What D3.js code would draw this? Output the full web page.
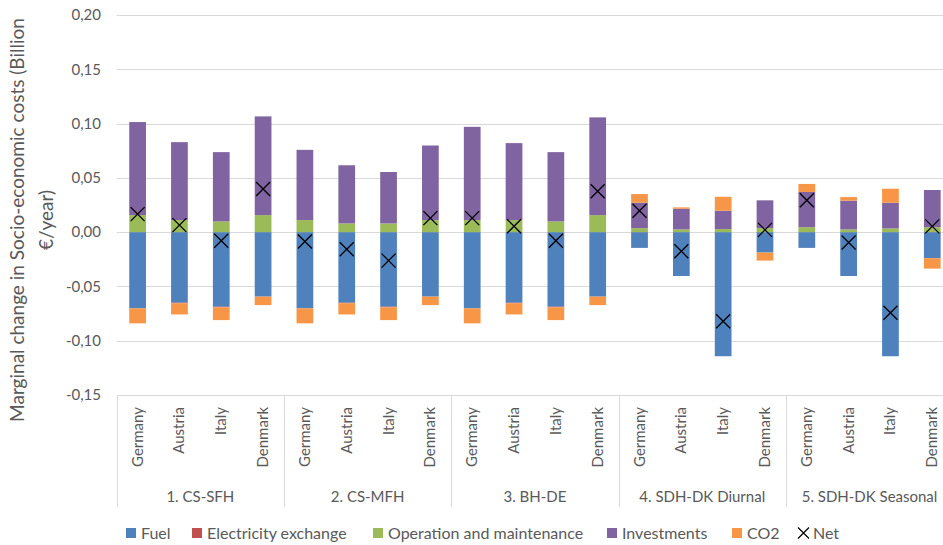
<!DOCTYPE html>
<html>
<head>
<meta charset="utf-8">
<script src="https://cdn.jsdelivr.net/npm/d3@7/dist/d3.min.js"></script>
<style>
  html, body { margin: 0; padding: 0; background: #fff; }
  svg { display: block; }
  text { font-family: Lato, "Open Sans", sans-serif; fill: #595959; }
</style>
</head>
<body>
<svg id="chart" width="943" height="545"></svg>
<script>
// ---------------- DATA ----------------
const groups = ["1. CS-SFH", "2. CS-MFH", "3. BH-DE", "4. SDH-DK Diurnal", "5. SDH-DK Seasonal"];
const countries = ["Germany", "Austria", "Italy", "Denmark"];
const seriesNames = ["Fuel", "Electricity exchange", "Operation and maintenance", "Investments", "CO2"];
const seriesColors = ["#4F81BD", "#C0504D", "#9BBB59", "#8064A2", "#F79646"];

// values in Billion €/year, 20 bars (5 groups x 4 countries)
const fuel = [
  -0.0702, -0.0650, -0.0687, -0.0594,
  -0.0702, -0.0650, -0.0687, -0.0594,
  -0.0702, -0.0650, -0.0687, -0.0594,
  -0.0145, -0.0404, -0.1143, -0.0188,
  -0.0145, -0.0404, -0.1143, -0.0240
];
const electricity = [
   0.0000, -0.0005, -0.0005,  0.0000,
   0.0000, -0.0005, -0.0005,  0.0000,
   0.0000, -0.0005, -0.0005,  0.0000,
   0.0000,  0.0000,  0.0000,  0.0000,
   0.0000,  0.0000,  0.0000,  0.0000
];
const operation = [
   0.0157,  0.0111,  0.0099,  0.0157,
   0.0111,  0.0080,  0.0080,  0.0111,
   0.0111,  0.0111,  0.0099,  0.0157,
   0.0037,  0.0025,  0.0028,  0.0037,
   0.0046,  0.0025,  0.0034,  0.0046
];
const investments = [
   0.0857,  0.0718,  0.0638,  0.0909,
   0.0647,  0.0536,  0.0474,  0.0687,
   0.0859,  0.0709,  0.0638,  0.0900,
   0.0234,  0.0190,  0.0169,  0.0256,
   0.0324,  0.0265,  0.0237,  0.0342
];
const co2 = [
  -0.0138, -0.0103, -0.0118, -0.0078,
  -0.0138, -0.0103, -0.0118, -0.0078,
  -0.0138, -0.0103, -0.0118, -0.0078,
   0.0080,  0.0013,  0.0129, -0.0074,
   0.0074,  0.0033,  0.0129, -0.0096
];
const net = [
   0.0166,  0.0065, -0.0080,  0.0397,
  -0.0086, -0.0157, -0.0262,  0.0129,
   0.0129,  0.0055, -0.0080,  0.0376,
   0.0197, -0.0176, -0.0820,  0.0021,
   0.0293, -0.0095, -0.0742,  0.0053
];
const yTicks = [-0.15, -0.10, -0.05, 0.00, 0.05, 0.10, 0.15, 0.20];
const yTitle = ["Marginal change in Socio-economic costs (Billion", "€/year)"];

// ---------------- BUILD TABLE ----------------
const seriesArrays = [fuel, electricity, operation, investments, co2];
const rows = [];
groups.forEach((g, gi) => {
  countries.forEach((c, ci) => {
    const i = gi * 4 + ci;
    const r = { id: i, group: g, country: c, net: net[i] };
    seriesNames.forEach((s, si) => { r[s] = seriesArrays[si][i]; });
    rows.push(r);
  });
});

// ---------------- LAYOUT ----------------
const svg = d3.select("#chart");
const plotLeft = 116.7, plotRight = 953.2, plotTop = 15, plotBottom = 395;

const x = d3.scaleBand()
  .domain(rows.map(d => d.id))
  .range([plotLeft, plotRight])
  .paddingInner(0.6)
  .paddingOuter(0.3);
const step = x.step();

const y = d3.scaleLinear().domain([-0.15, 0.20]).range([plotBottom, plotTop]);

// gridlines
svg.append("g").selectAll("line").data(yTicks).join("line")
  .attr("x1", plotLeft).attr("x2", plotRight)
  .attr("y1", d => Math.round(y(d)) + 0.5).attr("y2", d => Math.round(y(d)) + 0.5)
  .attr("stroke", "#d9d9d9").attr("stroke-width", 1);

// y tick labels
const fmt = v => (v < -1e-9 ? "-" : "") + Math.abs(v).toFixed(2).replace(".", ",");
svg.append("g").selectAll("text").data(yTicks).join("text")
  .attr("x", 101).attr("y", d => y(d))
  .attr("dy", "0.35em")
  .attr("text-anchor", "end")
  .style("font-size", "15px")
  .text(fmt);

// y-axis title
const titleCy = 220;
svg.append("text")
  .attr("transform", `translate(24,${titleCy}) rotate(-90)`)
  .attr("text-anchor", "middle")
  .style("font-size", "19px")
  .text(yTitle[0]);
svg.append("text")
  .attr("transform", `translate(53,${titleCy}) rotate(-90)`)
  .attr("text-anchor", "middle")
  .style("font-size", "19px")
  .text(yTitle[1]);

// stacked bars
const stack = d3.stack().keys(seriesNames).offset(d3.stackOffsetDiverging);
const stacked = stack(rows);
const barG = svg.append("g");
stacked.forEach((layer, li) => {
  barG.append("g").attr("fill", seriesColors[li])
    .selectAll("rect").data(layer).join("rect")
    .attr("x", d => x(d.data.id))
    .attr("width", x.bandwidth())
    .attr("y", d => y(d[1]))
    .attr("height", d => Math.abs(y(d[0]) - y(d[1])));
});

// net markers
const xr = 7;
svg.append("g").selectAll("path").data(rows).join("path")
  .attr("transform", d => `translate(${x(d.id) + x.bandwidth() / 2},${y(d.net)})`)
  .attr("d", `M${-xr},${-xr}L${xr},${xr}M${-xr},${xr}L${xr},${-xr}`)
  .attr("stroke", "#000").attr("stroke-width", 1.3).attr("fill", "none");

// category axis: separators
const groupStarts = d3.range(groups.length + 1).map(gi => plotLeft + gi * 4 * step);
svg.append("g").selectAll("line").data(groupStarts).join("line")
  .attr("x1", d => Math.round(d) + 0.5).attr("x2", d => Math.round(d) + 0.5)
  .attr("y1", plotBottom).attr("y2", 507)
  .attr("stroke", "#d9d9d9").attr("stroke-width", 1);

// country labels
svg.append("g").selectAll("text").data(rows).join("text")
  .attr("transform", d => `translate(${x(d.id) + x.bandwidth() / 2 + 5},407) rotate(-90)`)
  .attr("text-anchor", "end")
  .style("font-size", "15px")
  .text(d => d.country);

// group labels
svg.append("g").selectAll("text").data(groups).join("text")
  .attr("x", (d, i) => plotLeft + (i * 4 + 2) * step)
  .attr("y", 502)
  .attr("text-anchor", "middle")
  .style("font-size", "15px")
  .text(d => d);

// legend
const legendX = [126, 192, 373, 607, 732];
const legY = 533;
const leg = svg.append("g");
seriesNames.forEach((s, i) => {
  leg.append("rect").attr("x", legendX[i]).attr("y", legY - 5).attr("width", 10).attr("height", 10)
    .attr("fill", seriesColors[i]);
  leg.append("text").attr("x", legendX[i] + 15).attr("y", legY).attr("dy", "0.35em")
    .style("font-size", "16px").text(s);
});
const netX = 803.5;
leg.append("path")
  .attr("transform", `translate(${netX},${legY})`)
  .attr("d", "M-5.5,-5.5L5.5,5.5M-5.5,5.5L5.5,-5.5")
  .attr("stroke", "#000").attr("stroke-width", 1.2).attr("fill", "none");
leg.append("text").attr("x", 813).attr("y", legY).attr("dy", "0.35em")
  .style("font-size", "16px").text("Net");
</script>
</body>
</html>
